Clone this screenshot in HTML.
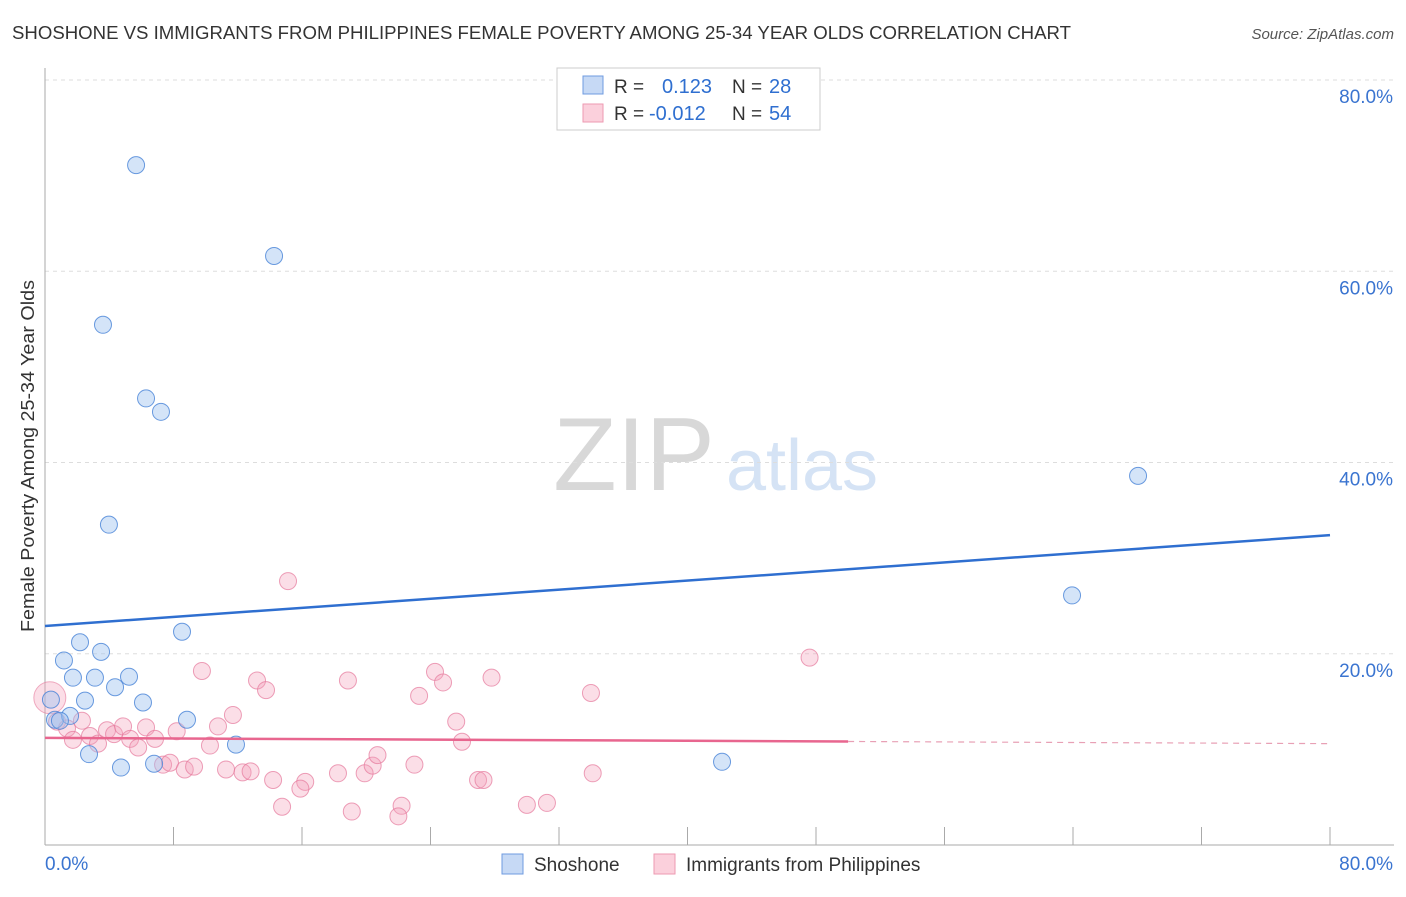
<!DOCTYPE html>
<html><head><meta charset="utf-8"><style>
body{margin:0;background:#fff;font-family:"Liberation Sans",sans-serif;}
svg text{font-family:"Liberation Sans",sans-serif;}
</style></head><body>
<svg id="chart" width="1406" height="892" xmlns="http://www.w3.org/2000/svg">
<text x="12" y="39" font-size="18" fill="#333" textLength="1059" lengthAdjust="spacingAndGlyphs">SHOSHONE VS IMMIGRANTS FROM PHILIPPINES FEMALE POVERTY AMONG 25-34 YEAR OLDS CORRELATION CHART</text>
<text x="1394" y="39" font-size="15" fill="#555" text-anchor="end" font-style="italic">Source: ZipAtlas.com</text>
<g>
<text x="634" y="490" font-size="104" fill="#d8d8d8" text-anchor="middle" font-family="Liberation Serif">ZIP</text>
<text x="802" y="490" font-size="72" fill="#d5e3f5" text-anchor="middle">atlas</text>
</g>
<g id="grid"></g>
<g id="axes"></g>
<g id="marks"></g>
<text transform="translate(34,456) rotate(-90)" font-size="18" fill="#333" text-anchor="middle" textLength="352" lengthAdjust="spacingAndGlyphs">Female Poverty Among 25-34 Year Olds</text>
<g>
<rect x="557" y="68" width="263" height="62" fill="#fff" stroke="#ccc"/>
<rect x="583" y="76" width="20" height="18" fill="#c6d9f5" stroke="#6f9be0"/>
<rect x="583" y="104" width="20" height="18" fill="#fbd0dc" stroke="#ee9ab2"/>
<text x="614" y="93" font-size="19" fill="#333">R = </text><text x="662" y="93" font-size="20" fill="#2f6fd0">0.123</text>
<text x="732" y="93" font-size="19" fill="#333">N = </text><text x="769" y="93" font-size="20" fill="#2f6fd0">28</text>
<text x="614" y="120" font-size="19" fill="#333">R = </text><text x="649" y="120" font-size="20" fill="#2f6fd0">-0.012</text>
<text x="732" y="120" font-size="19" fill="#333">N = </text><text x="769" y="120" font-size="20" fill="#2f6fd0">54</text>
</g>
<g>
<rect x="502" y="854" width="21" height="20" fill="#c6d9f5" stroke="#6f9be0"/>
<text x="534" y="871" font-size="19" fill="#333">Shoshone</text>
<rect x="654" y="854" width="21" height="20" fill="#fbd0dc" stroke="#ee9ab2"/>
<text x="686" y="871" font-size="19" fill="#333">Immigrants from Philippines</text>
</g>
</svg>
<script>
const yTicks=[20,40,60,80];
const yTickLabels=["20.0%","40.0%","60.0%","80.0%"];
const xTicks=[0,8,16,24,32,40,48,56,64,72,80];
const shoshoneX=[5.67,14.26,3.61,6.29,7.22,3.98,68.05,63.94,8.53,2.18,1.18,3.49,1.74,3.11,5.23,4.36,0.37,2.49,6.10,0.62,1.56,8.84,0.93,2.74,4.73,6.79,11.89,42.15];
const shoshoneY=[71.1,61.6,54.4,46.7,45.3,33.5,38.6,26.1,22.3,21.2,19.3,20.2,17.5,17.5,17.6,16.5,15.2,15.1,14.9,13.1,13.5,13.1,13.0,9.5,8.1,8.5,10.5,8.7];
const philX=[15.13,9.77,13.2,13.76,18.86,24.28,24.78,23.29,25.6,25.96,0.75,1.37,2.3,1.74,2.8,3.3,3.86,4.3,4.86,5.3,5.8,6.29,6.85,8.2,10.77,11.7,10.27,7.35,7.78,8.7,9.28,11.27,12.3,12.8,14.2,16.2,15.9,14.76,18.24,19.1,19.9,20.4,20.7,23.0,22.2,22.0,26.96,47.6,33.99,34.1,31.25,30.0,27.8,27.3];
const philY=[27.6,18.2,17.2,16.2,17.2,18.1,17.0,15.6,12.9,10.8,12.9,12.2,13.0,11.0,11.4,10.6,12.0,11.6,12.4,11.1,10.2,12.3,11.1,11.9,12.4,13.6,10.4,8.4,8.6,7.9,8.2,7.9,7.6,7.7,6.8,6.6,5.9,4.0,7.5,3.5,7.5,8.3,9.4,8.4,4.1,3.0,6.8,19.6,15.9,7.5,4.4,4.2,17.5,6.8];
const bigPhil=[0.3,15.4];
const blueTrend=[22.9,32.4];
const pinkTrend=[11.2,10.6];
const pinkSolidEnd=50;
const X0=45,X1=1330,Y0=845,Y1=80;
const sx=v=>X0+(v/80)*(X1-X0);
const sy=v=>Y0-(v/80)*(Y0-Y1);
const NS="http://www.w3.org/2000/svg";
function mk(t,a,p){const e=document.createElementNS(NS,t);for(const k in a)e.setAttribute(k,a[k]);p.appendChild(e);return e;}
const grid=document.getElementById('grid'),axes=document.getElementById('axes'),marks=document.getElementById('marks');
yTicks.forEach((t,i)=>{
 const l=mk('line',{x1:X0,x2:1394,y1:sy(t),y2:sy(t),stroke:'#ddd','stroke-dasharray':'4,4'},grid);
 
 
 const tx=mk('text',{x:1393,y:sy(t)+23,'font-size':19,fill:'#3a74d0','text-anchor':'end'},grid);
 tx.textContent=yTickLabels[i];
 
 
});
const ax=mk('line',{x1:X0,x2:X0,y1:68,y2:Y0,stroke:'#aaa'},axes);


const bx=mk('line',{x1:X0,x2:1394,y1:Y0,y2:Y0,stroke:'#aaa'},axes);


xTicks.forEach(t=>{
 const l=mk('line',{x1:sx(t),x2:sx(t),y1:827,y2:Y0,stroke:'#aaa'},axes);
 
 
});
[[0,"0.0%","start",45],[80,"80.0%","end",1393]].forEach(d=>{
 const t=mk('text',{x:d[3],y:870,'font-size':19,fill:'#3a74d0','text-anchor':d[2]},axes);
 t.textContent=d[1];
 
 
});
const bp=mk('circle',{cx:sx(bigPhil[0]),cy:sy(bigPhil[1]),r:16,fill:'rgba(244,160,185,0.35)',stroke:'rgba(230,120,155,0.6)'},marks);


philX.forEach((x,i)=>{
 const c=mk('circle',{cx:sx(x),cy:sy(philY[i]),r:8.5,fill:'rgba(244,160,185,0.35)',stroke:'rgba(230,120,155,0.7)'},marks);
 
 
});
shoshoneX.forEach((x,i)=>{
 const c=mk('circle',{cx:sx(x),cy:sy(shoshoneY[i]),r:8.5,fill:'rgba(160,195,240,0.45)',stroke:'rgba(70,130,215,0.8)'},marks);
 
 
});
const bt=mk('line',{x1:sx(0),y1:sy(blueTrend[0]),x2:sx(80),y2:sy(blueTrend[1]),stroke:'#2f6fd0','stroke-width':2.5},marks);


const pm=pinkTrend[0]+(pinkTrend[1]-pinkTrend[0])*pinkSolidEnd/80;
const pt=mk('line',{x1:sx(0),y1:sy(pinkTrend[0]),x2:sx(pinkSolidEnd),y2:sy(pm),stroke:'#e8668f','stroke-width':2.5},marks);


const pd=mk('line',{x1:sx(pinkSolidEnd),y1:sy(pm),x2:sx(80),y2:sy(pinkTrend[1]),stroke:'#e8a0b5','stroke-width':1.2,'stroke-dasharray':'6,5'},marks);


</script>
</body></html>
